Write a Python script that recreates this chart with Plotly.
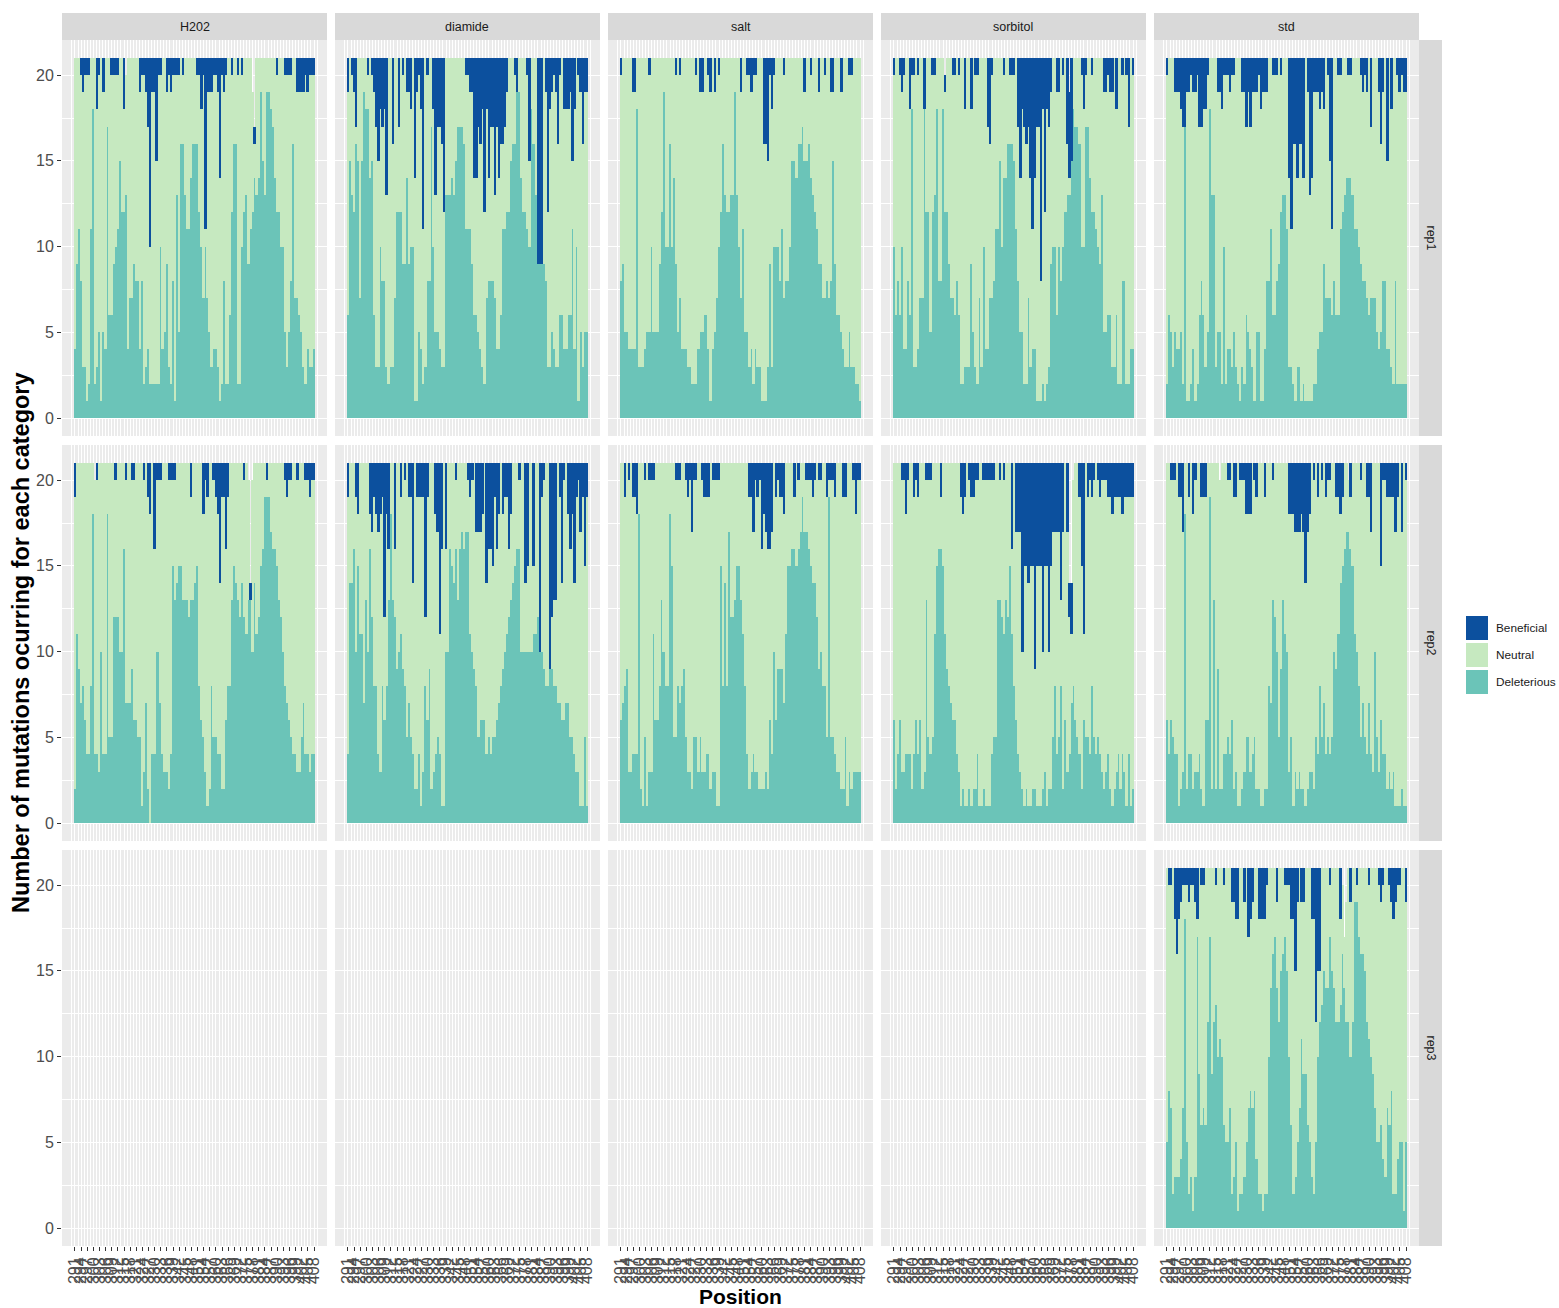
import plotly.graph_objects as go

# ---------------------------------------------------------------------------
# Data: number of mutations per position falling in each fitness category
# ---------------------------------------------------------------------------
POSITIONS = list(range(291, 409))
TICK_POSITIONS = list(range(291, 409, 3))
CONDITIONS = ["H202", "diamide", "salt", "sorbitol", "std"]
REPLICATES = ["rep1", "rep2", "rep3"]
CATEGORIES = ["Deleterious", "Neutral", "Beneficial"]
N_VARIANTS = 21  # variants scored per position unless listed in a *_SCORED dict

H202_REP1_DEL = [
    4, 9, 11, 8, 3, 3, 1, 2, 11, 18,
    2, 3, 5, 1, 5, 4, 17, 6, 6, 9,
    10, 11, 15, 12, 12, 13, 4, 7, 7, 9,
    8, 8, 4, 8, 2, 3, 4, 2, 2, 2,
    2, 2, 10, 4, 5, 9, 3, 2, 8, 1,
    13, 5, 16, 16, 13, 11, 11, 14, 16, 16,
    16, 12, 10, 7, 10, 7, 5, 3, 4, 4,
    3, 1, 2, 8, 2, 2, 6, 12, 16, 16,
    2, 2, 10, 12, 13, 9, 11, 12, 14, 13,
    14, 19, 15, 13, 19, 19, 18, 17, 14, 12,
    12, 10, 10, 5, 3, 5, 8, 16, 7, 7,
    6, 5, 3, 2, 4, 3, 3, 4,
]
H202_REP1_BEN = [
    0, 0, 0, 1, 2, 1, 1, 1, 0, 0,
    0, 3, 1, 0, 2, 0, 0, 0, 1, 1,
    1, 1, 0, 0, 3, 0, 0, 0, 0, 0,
    0, 0, 2, 1, 1, 2, 4, 11, 2, 2,
    6, 1, 1, 0, 0, 2, 1, 2, 1, 1,
    1, 1, 0, 1, 0, 0, 0, 0, 0, 0,
    1, 1, 3, 1, 10, 2, 2, 2, 1, 1,
    2, 7, 1, 2, 1, 0, 0, 1, 0, 0,
    1, 0, 1, 0, 0, 0, 0, 0, 1, 0,
    0, 0, 0, 0, 0, 0, 0, 0, 0, 1,
    0, 0, 0, 1, 1, 1, 1, 0, 0, 2,
    2, 2, 2, 1, 2, 1, 1, 1,
]
H202_REP1_SCORED = {316: 20, 378: 19, 379: 17}

DIAMIDE_REP1_DEL = [
    6, 15, 13, 12, 16, 15, 7, 15, 19, 18,
    18, 14, 15, 6, 3, 3, 10, 8, 8, 3,
    2, 3, 3, 7, 12, 12, 12, 9, 9, 14,
    9, 10, 10, 1, 1, 5, 4, 2, 3, 8,
    8, 17, 10, 5, 5, 4, 3, 3, 13, 13,
    13, 14, 13, 15, 17, 17, 17, 16, 11, 11,
    11, 9, 6, 6, 5, 4, 3, 2, 7, 8,
    8, 8, 7, 4, 4, 6, 11, 11, 12, 12,
    15, 16, 16, 19, 19, 14, 12, 12, 11, 10,
    18, 16, 13, 9, 9, 9, 9, 8, 3, 3,
    5, 4, 3, 3, 6, 6, 4, 4, 6, 6,
    11, 4, 10, 1, 5, 3, 5, 5,
]
DIAMIDE_REP1_BEN = [
    2, 0, 1, 2, 4, 0, 0, 0, 0, 0,
    1, 0, 1, 2, 4, 6, 3, 4, 3, 8,
    0, 0, 5, 0, 0, 4, 0, 1, 0, 2,
    2, 3, 0, 7, 2, 1, 3, 10, 0, 1,
    0, 0, 3, 8, 4, 4, 5, 9, 0, 0,
    0, 0, 0, 0, 0, 0, 0, 0, 1, 1,
    2, 2, 7, 7, 4, 5, 3, 9, 3, 7,
    4, 4, 8, 4, 7, 5, 5, 4, 2, 0,
    0, 0, 1, 2, 0, 0, 0, 0, 1, 6,
    0, 0, 0, 12, 12, 12, 0, 2, 9, 3,
    2, 1, 2, 5, 1, 0, 3, 3, 3, 2,
    6, 3, 0, 1, 2, 5, 2, 2,
]
DIAMIDE_REP1_SCORED = {}

SALT_REP1_DEL = [
    8, 9, 5, 5, 4, 4, 4, 4, 18, 3,
    3, 3, 4, 5, 5, 10, 5, 5, 5, 9,
    12, 19, 10, 10, 16, 10, 14, 9, 5, 7,
    4, 4, 4, 3, 3, 2, 2, 2, 4, 5,
    5, 6, 6, 4, 1, 4, 5, 7, 10, 12,
    16, 13, 12, 12, 13, 13, 19, 13, 10, 7,
    11, 5, 5, 3, 4, 2, 4, 3, 3, 1,
    1, 1, 3, 9, 3, 10, 10, 10, 8, 11,
    7, 8, 8, 10, 15, 15, 14, 16, 16, 17,
    15, 15, 16, 14, 13, 12, 11, 9, 9, 7,
    7, 8, 7, 8, 15, 9, 6, 6, 5, 4,
    3, 3, 5, 3, 3, 2, 2, 1,
]
SALT_REP1_BEN = [
    1, 0, 0, 0, 0, 0, 2, 2, 0, 0,
    0, 0, 0, 0, 1, 0, 0, 0, 0, 0,
    0, 0, 0, 0, 0, 0, 0, 1, 0, 1,
    0, 0, 0, 0, 0, 0, 0, 1, 0, 2,
    2, 0, 0, 1, 2, 0, 2, 0, 1, 0,
    0, 0, 0, 0, 0, 0, 0, 0, 0, 2,
    0, 0, 1, 1, 2, 1, 1, 0, 0, 0,
    5, 5, 6, 1, 3, 1, 0, 0, 0, 0,
    1, 0, 0, 0, 0, 0, 0, 0, 0, 0,
    2, 0, 0, 1, 0, 0, 0, 2, 0, 0,
    1, 0, 0, 2, 2, 0, 0, 0, 2, 0,
    0, 0, 1, 1, 0, 0, 0, 0,
]
SALT_REP1_SCORED = {}

SORBITOL_REP1_DEL = [
    10, 6, 8, 6, 10, 4, 4, 8, 6, 18,
    3, 3, 4, 7, 7, 18, 12, 12, 5, 12,
    13, 18, 8, 8, 18, 12, 12, 9, 7, 7,
    6, 8, 6, 2, 2, 3, 3, 3, 9, 5,
    3, 2, 7, 3, 10, 4, 4, 7, 7, 8,
    11, 11, 15, 10, 14, 14, 16, 16, 16, 15,
    11, 8, 5, 5, 2, 2, 7, 3, 4, 4,
    1, 1, 1, 2, 1, 2, 3, 9, 10, 10,
    6, 10, 8, 10, 12, 13, 13, 15, 18, 17,
    17, 16, 10, 10, 17, 17, 14, 12, 12, 11,
    10, 9, 13, 5, 5, 6, 6, 3, 3, 6,
    2, 2, 8, 8, 2, 2, 4, 4,
]
SORBITOL_REP1_BEN = [
    1, 0, 0, 1, 2, 1, 0, 0, 3, 1,
    1, 0, 1, 0, 0, 3, 0, 0, 0, 1,
    1, 0, 0, 0, 0, 1, 0, 0, 0, 1,
    1, 0, 1, 0, 0, 3, 0, 0, 3, 0,
    1, 1, 0, 0, 0, 0, 4, 5, 1, 0,
    0, 0, 0, 0, 1, 0, 0, 1, 1, 1,
    0, 4, 7, 3, 4, 5, 4, 7, 10, 7,
    4, 4, 13, 3, 9, 3, 4, 2, 0, 0,
    2, 2, 0, 1, 0, 5, 5, 6, 0, 0,
    0, 0, 1, 3, 1, 0, 0, 1, 0, 0,
    0, 0, 0, 2, 2, 1, 2, 2, 0, 3,
    0, 0, 1, 0, 1, 4, 0, 1,
]
SORBITOL_REP1_SCORED = {316: 20, 377: 19}

STD_REP1_DEL = [
    2, 6, 5, 3, 5, 4, 4, 5, 2, 17,
    1, 1, 2, 4, 1, 2, 6, 8, 6, 3,
    5, 18, 13, 13, 3, 5, 5, 2, 10, 2,
    4, 4, 3, 5, 3, 2, 1, 3, 2, 6,
    5, 4, 3, 1, 5, 5, 1, 1, 4, 8,
    8, 11, 6, 6, 8, 9, 12, 13, 13, 11,
    3, 3, 2, 1, 3, 3, 1, 2, 1, 1,
    1, 1, 2, 2, 4, 5, 5, 9, 7, 7,
    7, 6, 8, 6, 6, 11, 12, 13, 14, 14,
    14, 13, 11, 11, 10, 9, 8, 8, 7, 6,
    7, 7, 7, 5, 4, 5, 8, 8, 4, 4,
    3, 2, 8, 2, 2, 2, 2, 2,
]
STD_REP1_BEN = [
    1, 0, 0, 0, 2, 2, 2, 3, 4, 4,
    2, 2, 1, 2, 2, 1, 4, 4, 3, 3,
    1, 0, 0, 0, 0, 2, 2, 3, 1, 1,
    1, 2, 1, 1, 0, 0, 0, 2, 2, 4,
    2, 4, 2, 2, 2, 1, 3, 2, 2, 2,
    0, 0, 1, 1, 1, 0, 1, 0, 0, 0,
    7, 10, 5, 5, 7, 5, 5, 7, 0, 2,
    8, 7, 2, 2, 2, 3, 2, 3, 0, 1,
    6, 10, 0, 0, 1, 1, 0, 0, 0, 1,
    1, 0, 0, 0, 0, 1, 2, 1, 2, 0,
    4, 0, 0, 0, 2, 5, 2, 0, 6, 0,
    3, 0, 0, 1, 2, 1, 2, 2,
]
STD_REP1_SCORED = {}

H202_REP2_DEL = [
    2, 11, 9, 7, 8, 6, 4, 4, 8, 18,
    4, 4, 3, 10, 4, 4, 18, 5, 5, 12,
    12, 12, 10, 10, 16, 7, 7, 7, 9, 6,
    6, 5, 5, 1, 3, 7, 2, 0, 4, 4,
    10, 10, 7, 4, 3, 3, 2, 4, 15, 13,
    14, 15, 15, 13, 13, 13, 12, 13, 13, 14,
    15, 8, 6, 5, 3, 1, 2, 8, 5, 5,
    4, 4, 2, 2, 6, 8, 8, 13, 15, 14,
    13, 12, 14, 12, 11, 13, 13, 10, 14, 11,
    12, 15, 16, 19, 19, 19, 17, 16, 16, 15,
    13, 12, 10, 8, 7, 6, 5, 4, 4, 3,
    3, 5, 7, 4, 4, 3, 4, 4,
]
H202_REP2_BEN = [
    2, 0, 0, 0, 0, 0, 0, 0, 0, 0,
    0, 1, 0, 0, 0, 0, 0, 0, 0, 0,
    1, 0, 0, 0, 0, 1, 0, 0, 1, 1,
    0, 0, 0, 0, 1, 0, 2, 3, 0, 5,
    1, 1, 1, 0, 0, 0, 1, 1, 1, 1,
    0, 0, 0, 0, 0, 0, 0, 2, 0, 0,
    0, 0, 0, 3, 1, 2, 0, 0, 1, 2,
    3, 7, 2, 2, 5, 2, 0, 0, 0, 0,
    0, 0, 0, 1, 0, 0, 1, 0, 0, 0,
    0, 0, 0, 0, 1, 0, 0, 0, 0, 0,
    0, 0, 0, 1, 2, 1, 1, 0, 0, 1,
    0, 0, 0, 1, 1, 2, 1, 1,
]
H202_REP2_SCORED = {301: 20, 376: 20, 377: 14, 378: 20}

DIAMIDE_REP2_DEL = [
    4, 14, 14, 16, 10, 15, 11, 11, 7, 13,
    10, 16, 12, 8, 8, 4, 3, 8, 6, 8,
    13, 18, 13, 12, 9, 10, 11, 9, 8, 5,
    7, 5, 4, 2, 2, 4, 1, 3, 8, 6,
    9, 2, 3, 4, 5, 4, 1, 1, 10, 10,
    16, 15, 14, 16, 13, 16, 17, 16, 17, 17,
    11, 10, 9, 8, 5, 6, 6, 6, 4, 5,
    4, 5, 5, 6, 7, 8, 9, 10, 11, 12,
    13, 14, 15, 16, 16, 10, 10, 10, 10, 10,
    10, 11, 11, 12, 10, 10, 9, 8, 8, 9,
    9, 8, 8, 7, 7, 6, 6, 7, 7, 5,
    5, 4, 3, 3, 1, 1, 5, 1,
]
DIAMIDE_REP2_BEN = [
    2, 0, 0, 0, 2, 3, 0, 0, 0, 0,
    0, 3, 4, 2, 3, 4, 3, 2, 9, 3,
    5, 0, 0, 5, 0, 0, 2, 0, 1, 0,
    2, 2, 7, 0, 2, 2, 2, 2, 9, 2,
    0, 0, 0, 3, 4, 10, 5, 0, 5, 0,
    0, 0, 0, 1, 0, 0, 0, 0, 0, 1,
    2, 1, 0, 4, 4, 4, 3, 0, 7, 5,
    5, 6, 2, 5, 3, 0, 3, 2, 2, 5,
    3, 0, 0, 0, 1, 0, 0, 7, 6, 0,
    0, 6, 0, 0, 11, 2, 1, 0, 0, 12,
    9, 8, 8, 0, 2, 7, 1, 0, 3, 5,
    3, 7, 2, 1, 4, 2, 6, 2,
]
DIAMIDE_REP2_SCORED = {}

SALT_REP2_DEL = [
    6, 7, 8, 9, 3, 3, 4, 4, 4, 18,
    2, 1, 5, 1, 3, 3, 11, 6, 6, 8,
    13, 10, 8, 8, 18, 15, 5, 5, 8, 7,
    8, 9, 5, 3, 3, 2, 5, 5, 3, 5,
    3, 3, 4, 4, 2, 3, 3, 1, 1, 15,
    8, 14, 8, 17, 12, 12, 13, 15, 15, 13,
    11, 8, 4, 2, 3, 4, 3, 3, 2, 2,
    2, 3, 2, 6, 4, 10, 6, 9, 9, 9,
    7, 11, 15, 15, 16, 16, 15, 16, 17, 19,
    17, 17, 16, 15, 14, 14, 12, 9, 10, 8,
    8, 5, 19, 5, 5, 4, 3, 3, 2, 2,
    5, 1, 3, 2, 3, 3, 3, 3,
]
SALT_REP2_BEN = [
    0, 0, 2, 0, 1, 0, 2, 2, 3, 0,
    0, 0, 1, 0, 1, 1, 1, 0, 0, 0,
    0, 0, 0, 0, 0, 0, 0, 1, 1, 1,
    0, 0, 1, 2, 1, 4, 1, 1, 0, 0,
    1, 2, 2, 2, 0, 1, 1, 1, 1, 0,
    0, 0, 0, 0, 0, 0, 0, 0, 0, 0,
    0, 0, 0, 2, 2, 4, 1, 2, 1, 5,
    3, 4, 5, 5, 4, 0, 2, 1, 2, 2,
    3, 0, 0, 0, 0, 2, 0, 1, 0, 0,
    0, 1, 1, 1, 2, 1, 0, 1, 1, 0,
    0, 2, 1, 1, 1, 2, 0, 0, 0, 2,
    2, 0, 0, 0, 1, 3, 1, 1,
]
SALT_REP2_SCORED = {}

SORBITOL_REP2_DEL = [
    6, 2, 4, 6, 3, 3, 4, 4, 4, 2,
    4, 6, 4, 6, 2, 3, 13, 5, 4, 5,
    11, 15, 16, 16, 15, 11, 9, 8, 7, 6,
    6, 4, 3, 1, 2, 1, 1, 2, 1, 2,
    2, 4, 1, 1, 2, 1, 1, 1, 4, 5,
    5, 13, 13, 12, 11, 13, 12, 15, 11, 8,
    6, 4, 3, 2, 1, 2, 1, 1, 2, 2,
    1, 1, 1, 2, 3, 1, 2, 2, 5, 8,
    4, 5, 8, 2, 6, 3, 4, 7, 8, 6,
    5, 4, 2, 6, 5, 5, 4, 8, 5, 4,
    5, 4, 3, 2, 3, 4, 2, 1, 2, 3,
    4, 2, 4, 3, 1, 4, 1, 2,
]
SORBITOL_REP2_BEN = [
    0, 0, 0, 0, 1, 1, 3, 1, 0, 0,
    2, 1, 2, 0, 0, 0, 1, 1, 1, 0,
    0, 0, 0, 2, 0, 0, 0, 0, 0, 0,
    0, 0, 0, 2, 3, 2, 0, 1, 2, 2,
    1, 1, 0, 0, 1, 1, 1, 1, 1, 1,
    0, 0, 1, 0, 1, 0, 0, 0, 5, 0,
    4, 4, 4, 11, 6, 6, 7, 6, 6, 12,
    6, 6, 6, 11, 6, 6, 11, 6, 4, 4,
    4, 4, 8, 4, 0, 4, 2, 3, 0, 0,
    0, 2, 6, 10, 0, 2, 1, 2, 1, 0,
    1, 2, 1, 1, 1, 2, 2, 3, 2, 2,
    2, 2, 3, 2, 2, 2, 2, 2,
]
SORBITOL_REP2_SCORED = {377: 14, 378: 14, 379: 20}

STD_REP2_DEL = [
    6, 4, 6, 5, 4, 4, 1, 2, 3, 18,
    2, 4, 4, 2, 3, 3, 4, 2, 1, 6,
    6, 19, 2, 13, 2, 9, 2, 2, 4, 4,
    5, 4, 6, 2, 3, 1, 1, 2, 3, 5,
    5, 3, 4, 5, 2, 2, 1, 1, 2, 2,
    8, 7, 13, 12, 10, 5, 9, 13, 11, 10,
    3, 5, 1, 3, 2, 3, 2, 2, 1, 2,
    3, 3, 2, 5, 4, 8, 5, 7, 4, 5,
    4, 5, 10, 9, 11, 14, 15, 16, 17, 17,
    16, 15, 11, 10, 8, 5, 7, 5, 4, 7,
    4, 3, 10, 5, 3, 6, 4, 4, 2, 3,
    2, 3, 1, 1, 1, 2, 1, 1,
]
STD_REP2_BEN = [
    0, 0, 1, 1, 1, 0, 2, 2, 4, 0,
    0, 2, 0, 3, 1, 0, 0, 2, 2, 2,
    0, 0, 0, 0, 0, 0, 0, 0, 0, 0,
    1, 1, 0, 2, 2, 0, 1, 1, 1, 3,
    3, 3, 0, 1, 2, 0, 0, 0, 2, 0,
    0, 0, 1, 0, 0, 0, 0, 0, 0, 0,
    3, 3, 3, 4, 4, 4, 3, 4, 7, 4,
    3, 0, 1, 0, 2, 0, 1, 0, 2, 1,
    1, 0, 0, 2, 2, 3, 2, 0, 0, 0,
    2, 0, 0, 0, 0, 1, 0, 0, 2, 2,
    4, 0, 0, 0, 0, 6, 1, 1, 2, 2,
    2, 2, 4, 2, 0, 4, 0, 1,
]
STD_REP2_SCORED = {317: 20, 380: 20}

STD_REP3_DEL = [
    5, 8, 7, 2, 3, 3, 3, 4, 7, 18,
    5, 2, 3, 1, 3, 17, 9, 6, 7, 6,
    12, 17, 9, 12, 13, 10, 11, 10, 6, 5,
    5, 7, 2, 3, 5, 1, 2, 2, 3, 5,
    7, 8, 7, 8, 4, 2, 2, 1, 2, 2,
    10, 14, 16, 17, 14, 12, 15, 16, 17, 15,
    10, 6, 2, 3, 5, 7, 11, 9, 9, 6,
    5, 3, 2, 5, 10, 12, 13, 15, 14, 14,
    17, 15, 14, 12, 12, 13, 16, 14, 12, 12,
    10, 12, 19, 19, 17, 16, 16, 15, 12, 11,
    10, 9, 7, 5, 5, 6, 4, 3, 7, 6,
    8, 2, 2, 4, 5, 5, 1, 5,
]
STD_REP3_BEN = [
    0, 1, 1, 0, 3, 5, 3, 2, 1, 1,
    1, 2, 1, 1, 2, 3, 0, 1, 1, 0,
    0, 0, 0, 0, 1, 0, 0, 0, 1, 0,
    0, 0, 2, 2, 3, 3, 0, 0, 2, 0,
    4, 3, 2, 0, 0, 3, 3, 3, 3, 1,
    0, 0, 0, 0, 2, 0, 0, 0, 1, 1,
    1, 3, 3, 6, 2, 0, 2, 2, 0, 0,
    0, 3, 3, 9, 6, 6, 0, 0, 0, 0,
    1, 0, 0, 0, 0, 3, 0, 0, 0, 0,
    2, 0, 0, 1, 0, 0, 0, 0, 0, 1,
    0, 0, 0, 0, 1, 2, 1, 0, 0, 1,
    2, 3, 2, 1, 1, 0, 0, 2,
]
STD_REP3_SCORED = {377: 20, 378: 17, 379: 19}

# (condition, replicate) -> (deleterious, beneficial, scored-per-position overrides)
PANEL_DATA = {
    ("H202", "rep1"): (H202_REP1_DEL, H202_REP1_BEN, H202_REP1_SCORED),
    ("diamide", "rep1"): (DIAMIDE_REP1_DEL, DIAMIDE_REP1_BEN, DIAMIDE_REP1_SCORED),
    ("salt", "rep1"): (SALT_REP1_DEL, SALT_REP1_BEN, SALT_REP1_SCORED),
    ("sorbitol", "rep1"): (SORBITOL_REP1_DEL, SORBITOL_REP1_BEN, SORBITOL_REP1_SCORED),
    ("std", "rep1"): (STD_REP1_DEL, STD_REP1_BEN, STD_REP1_SCORED),
    ("H202", "rep2"): (H202_REP2_DEL, H202_REP2_BEN, H202_REP2_SCORED),
    ("diamide", "rep2"): (DIAMIDE_REP2_DEL, DIAMIDE_REP2_BEN, DIAMIDE_REP2_SCORED),
    ("salt", "rep2"): (SALT_REP2_DEL, SALT_REP2_BEN, SALT_REP2_SCORED),
    ("sorbitol", "rep2"): (SORBITOL_REP2_DEL, SORBITOL_REP2_BEN, SORBITOL_REP2_SCORED),
    ("std", "rep2"): (STD_REP2_DEL, STD_REP2_BEN, STD_REP2_SCORED),
    ("std", "rep3"): (STD_REP3_DEL, STD_REP3_BEN, STD_REP3_SCORED),
}

for key, (d, b, _) in PANEL_DATA.items():
    assert len(d) == len(POSITIONS) and len(b) == len(POSITIONS), key

# ---------------------------------------------------------------------------
# Styling / geometry
# ---------------------------------------------------------------------------
W, H = 1559, 1308
COLORS = {"Beneficial": "#0C509E", "Neutral": "#C6E9C0", "Deleterious": "#6BC4B8"}
PANEL_BG = "#EBEBEB"
STRIP_BG = "#D9D9D9"
FONT = "Liberation Sans, Arial, Helvetica, sans-serif"

COL_X0 = [62, 335, 608, 881, 1154]
PANEL_W = 265
ROW_Y0 = [40, 445, 850]
PANEL_H = 396
STRIP_TOP = 13
STRIP_RIGHT_W = 23

X_RANGE = [284.65, 414.35]
Y_RANGE = [-1.05, 22.05]
X_MINOR = [289.5 + 3 * i for i in range(41)]


def fx(px):
    return px / W


def fy(py):
    return 1 - py / H


def neutral_counts(dele, bene, scored):
    return [max(0, scored.get(p, N_VARIANTS) - d - b)
            for p, d, b in zip(POSITIONS, dele, bene)]


fig = go.Figure()
layout_axes = {}
shapes = []
annotations = []

for r, rep in enumerate(REPLICATES):
    for c, cond in enumerate(CONDITIONS):
        k = r * len(CONDITIONS) + c + 1
        xname = "xaxis" if k == 1 else f"xaxis{k}"
        yname = "yaxis" if k == 1 else f"yaxis{k}"
        xref = "x" if k == 1 else f"x{k}"
        yref = "y" if k == 1 else f"y{k}"
        bottom = r == len(REPLICATES) - 1
        left = c == 0

        layout_axes[xname] = dict(
            domain=[fx(COL_X0[c]), fx(COL_X0[c] + PANEL_W)],
            range=X_RANGE, anchor=yref, fixedrange=True,
            tickmode="array", tickvals=TICK_POSITIONS,
            ticktext=[str(t) for t in TICK_POSITIONS],
            showticklabels=bottom, ticks="outside" if bottom else "",
            ticklen=4, tickwidth=1, tickcolor="#333333", tickangle=-90,
            tickfont=dict(family=FONT, size=16, color="#4D4D4D"),
            showgrid=True, gridcolor="white", gridwidth=1.2,
            zeroline=False, showline=False,
            minor=dict(tickmode="array", tickvals=X_MINOR, showgrid=True,
                       gridcolor="white", gridwidth=0.6, ticks=""),
        )
        layout_axes[yname] = dict(
            domain=[fy(ROW_Y0[r] + PANEL_H), fy(ROW_Y0[r])],
            range=Y_RANGE, anchor=xref, fixedrange=True,
            tickmode="array", tickvals=[0, 5, 10, 15, 20],
            showticklabels=left, ticks="outside" if left else "",
            ticklen=4, tickwidth=1, tickcolor="#333333",
            tickfont=dict(family=FONT, size=16, color="#4D4D4D"),
            showgrid=True, gridcolor="white", gridwidth=1.2,
            zeroline=False, showline=False,
            minor=dict(tickmode="array", tickvals=[2.5, 7.5, 12.5, 17.5],
                       showgrid=True, gridcolor="white", gridwidth=0.6, ticks=""),
        )

        if (cond, rep) in PANEL_DATA:
            dele, bene, scored = PANEL_DATA[(cond, rep)]
            series = {
                "Deleterious": dele,
                "Neutral": neutral_counts(dele, bene, scored),
                "Beneficial": bene,
            }
            for cat in CATEGORIES:
                fig.add_trace(go.Bar(
                    x=POSITIONS, y=series[cat], width=0.9, name=cat,
                    marker=dict(color=COLORS[cat], line=dict(width=0)),
                    xaxis=xref, yaxis=yref, showlegend=False,
                    hovertemplate=f"{cond} {rep}<br>Position %{{x}}<br>{cat}: %{{y}}<extra></extra>",
                ))
        else:
            # no measurements for this condition/replicate: keep the empty panel
            fig.add_trace(go.Scatter(
                x=[None], y=[None], mode="markers", xaxis=xref, yaxis=yref,
                showlegend=False, hoverinfo="skip",
            ))

# column strips (conditions)
for c, cond in enumerate(CONDITIONS):
    x0, x1 = COL_X0[c], COL_X0[c] + PANEL_W
    shapes.append(dict(type="rect", xref="paper", yref="paper",
                       x0=fx(x0), x1=fx(x1), y0=fy(ROW_Y0[0]), y1=fy(STRIP_TOP),
                       fillcolor=STRIP_BG, line=dict(width=0)))
    annotations.append(dict(text=cond, xref="paper", yref="paper",
                            x=fx((x0 + x1) / 2), y=fy((STRIP_TOP + ROW_Y0[0]) / 2),
                            showarrow=False, xanchor="center", yanchor="middle",
                            font=dict(family=FONT, size=12.5, color="#1A1A1A")))

# row strips (replicates)
strip_x0 = COL_X0[-1] + PANEL_W
for r, rep in enumerate(REPLICATES):
    y0, y1 = ROW_Y0[r], ROW_Y0[r] + PANEL_H
    shapes.append(dict(type="rect", xref="paper", yref="paper",
                       x0=fx(strip_x0), x1=fx(strip_x0 + STRIP_RIGHT_W),
                       y0=fy(y1), y1=fy(y0),
                       fillcolor=STRIP_BG, line=dict(width=0)))
    annotations.append(dict(text=rep, xref="paper", yref="paper",
                            x=fx(strip_x0 + STRIP_RIGHT_W / 2), y=fy((y0 + y1) / 2),
                            showarrow=False, textangle=90,
                            xanchor="center", yanchor="middle",
                            font=dict(family=FONT, size=12.5, color="#1A1A1A")))

# legend
LEGEND_X0, KEY_W, KEY_H = 1466, 22, 24
LEGEND_Y0 = 616
for i, cat in enumerate(["Beneficial", "Neutral", "Deleterious"]):
    ky = LEGEND_Y0 + i * (KEY_H + 3)
    shapes.append(dict(type="rect", xref="paper", yref="paper",
                       x0=fx(LEGEND_X0), x1=fx(LEGEND_X0 + KEY_W),
                       y0=fy(ky + KEY_H), y1=fy(ky),
                       fillcolor=COLORS[cat], line=dict(width=0)))
    annotations.append(dict(text=cat, xref="paper", yref="paper",
                            x=fx(LEGEND_X0 + KEY_W + 6), y=fy(ky + KEY_H / 2),
                            showarrow=False, xanchor="left", yanchor="middle",
                            font=dict(family=FONT, size=11.8, color="#1A1A1A")))

# axis titles
annotations.append(dict(text="<b>Position</b>", xref="paper", yref="paper",
                        x=fx((COL_X0[0] + COL_X0[-1] + PANEL_W) / 2), y=fy(1296),
                        showarrow=False, xanchor="center", yanchor="middle",
                        font=dict(family=FONT, size=21, color="#000000")))
annotations.append(dict(text="<b>Number of mutations ocurring for each category</b>",
                        xref="paper", yref="paper",
                        x=fx(21), y=fy((ROW_Y0[0] + ROW_Y0[-1] + PANEL_H) / 2),
                        showarrow=False, textangle=-90,
                        xanchor="center", yanchor="middle",
                        font=dict(family=FONT, size=23.5, color="#000000")))

fig.update_layout(
    width=W, height=H,
    margin=dict(l=0, r=0, t=0, b=0, autoexpand=False),
    paper_bgcolor="white", plot_bgcolor=PANEL_BG,
    barmode="stack", bargap=0,
    showlegend=False,
    shapes=shapes, annotations=annotations,
    font=dict(family=FONT),
    **layout_axes,
)

fig.write_html("out.html")
